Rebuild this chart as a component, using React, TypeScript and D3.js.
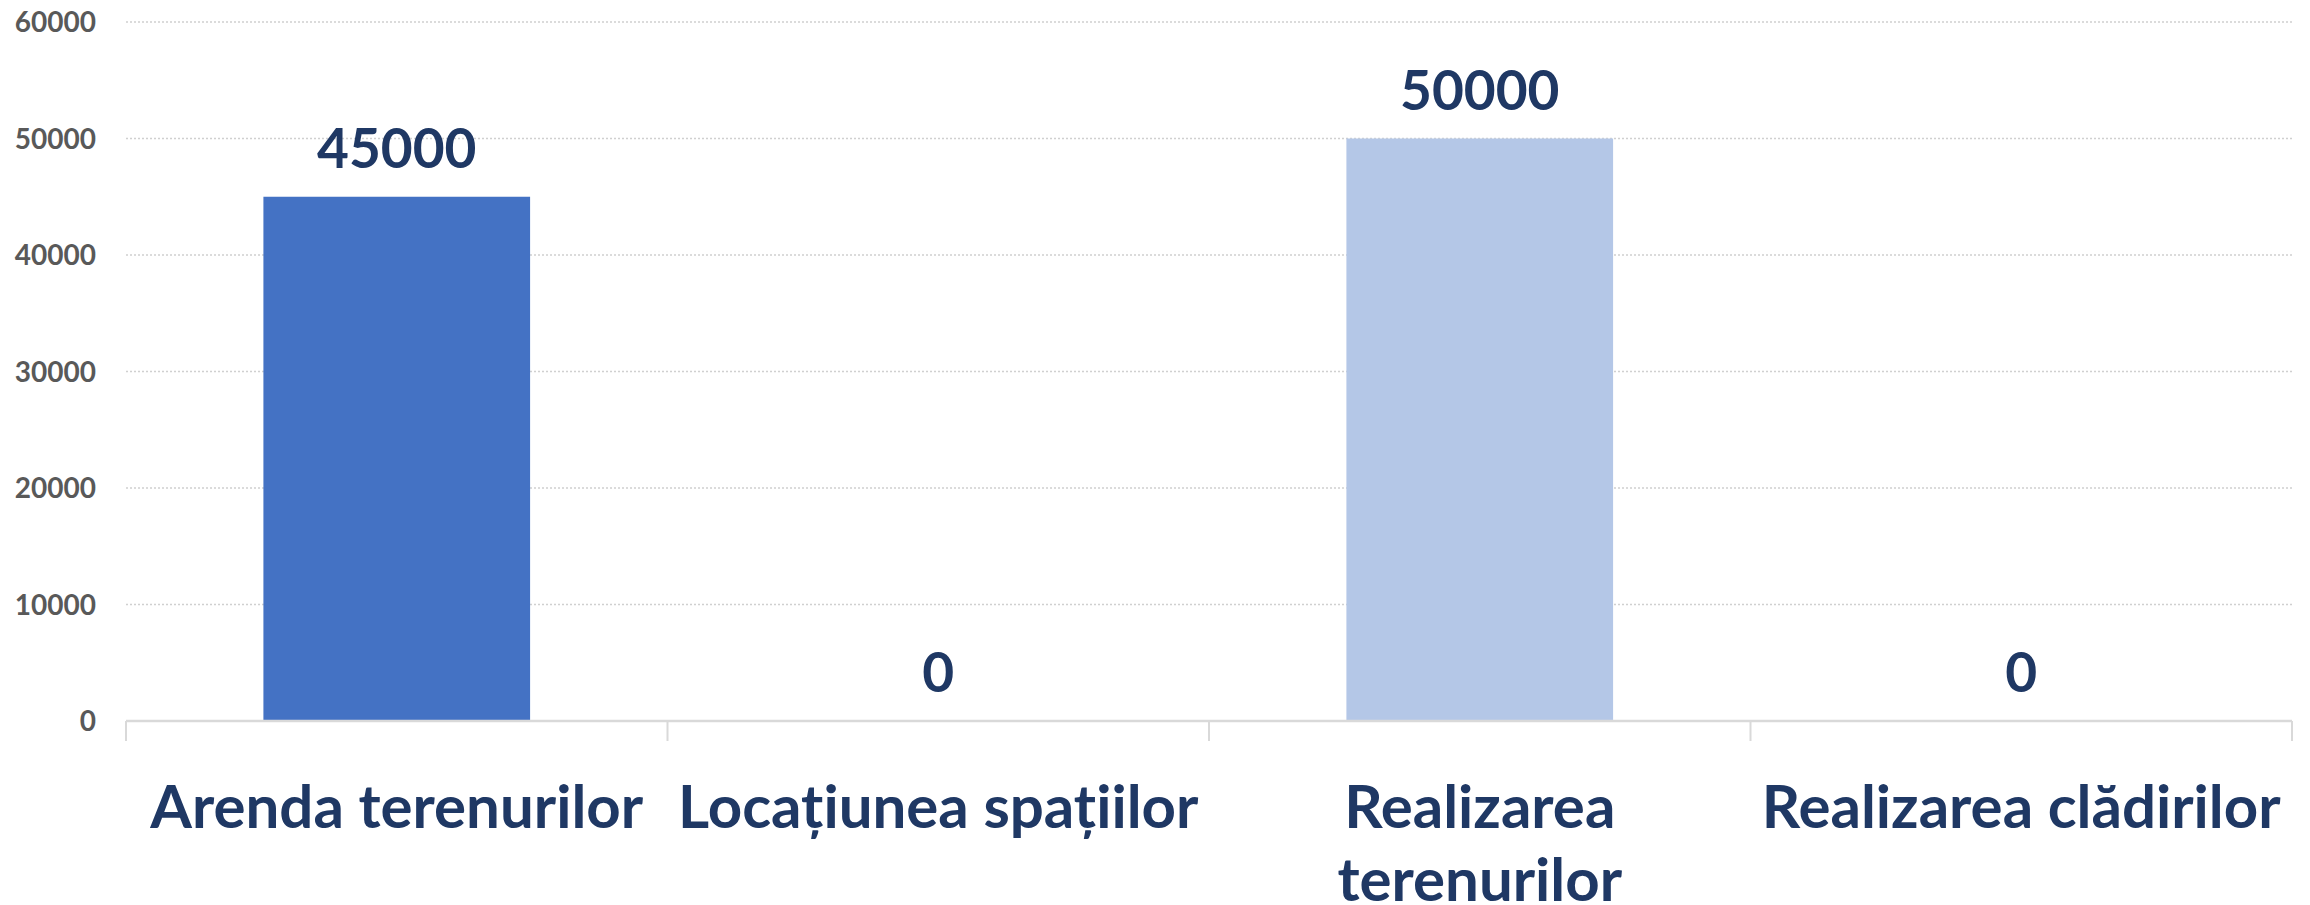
import React, { useEffect, useRef } from "react";
import * as d3 from "d3";

const categories = [
  "Arenda terenurilor",
  "Locațiunea spațiilor",
  "Realizarea terenurilor",
  "Realizarea clădirilor",
];
const values = [45000, 0, 50000, 0];
const barColors = ["#4472C4", "#2F5597", "#B4C7E7", "#8FAADC"];
const yTicks = [0, 10000, 20000, 30000, 40000, 50000, 60000];

const W = 2310;
const H = 905;
const FONT = "Lato, 'Open Sans', sans-serif";

export default function App() {
  const ref = useRef<SVGSVGElement>(null);

  useEffect(() => {
    const svg = d3.select(ref.current);
    svg.selectAll("*").remove();

    const x0 = 126;
    const x1 = 2292;
    const yBase = 721;
    const yTop = 22;

    const x = d3.scaleBand<string>().domain(categories).range([x0, x1]).paddingInner(0).paddingOuter(0);
    const y = d3.scaleLinear().domain([0, 60000]).range([yBase, yTop]);

    // gridlines
    svg
      .append("g")
      .selectAll("line")
      .data(yTicks.filter((t) => t > 0))
      .join("line")
      .attr("x1", x0)
      .attr("x2", x1)
      .attr("y1", (d) => y(d))
      .attr("y2", (d) => y(d))
      .attr("stroke", "#D0D0D0")
      .attr("stroke-width", 1.5)
      .attr("stroke-dasharray", "2,2");

    // y tick labels
    svg
      .append("g")
      .selectAll("text")
      .data(yTicks)
      .join("text")
      .attr("x", 96)
      .attr("y", (d) => y(d) + 10)
      .attr("text-anchor", "end")
      .attr("font-family", FONT)
      .attr("font-weight", 700)
      .attr("font-size", 28)
      .attr("fill", "#595959")
      .text((d) => String(d));

    // bars
    const bw = x.bandwidth() * 0.4925;
    svg
      .append("g")
      .selectAll("rect")
      .data(values)
      .join("rect")
      .attr("x", (d, i) => (x(categories[i]) as number) + (x.bandwidth() - bw) / 2)
      .attr("width", bw)
      .attr("y", (d) => y(d))
      .attr("height", (d) => yBase - y(d))
      .attr("fill", (d, i) => barColors[i]);

    // axis line
    svg
      .append("line")
      .attr("x1", x0)
      .attr("x2", x1)
      .attr("y1", yBase)
      .attr("y2", yBase)
      .attr("stroke", "#D9D9D9")
      .attr("stroke-width", 2.5);

    // category boundary ticks
    const bounds = categories.map((c) => x(c) as number).concat([x1]);
    svg
      .append("g")
      .selectAll("line")
      .data(bounds)
      .join("line")
      .attr("x1", (d) => d)
      .attr("x2", (d) => d)
      .attr("y1", yBase)
      .attr("y2", yBase + 20)
      .attr("stroke", "#D9D9D9")
      .attr("stroke-width", 2);

    // value labels
    svg
      .append("g")
      .selectAll("text")
      .data(values)
      .join("text")
      .attr("x", (d, i) => (x(categories[i]) as number) + x.bandwidth() / 2)
      .attr("y", (d) => y(d) - 29)
      .attr("text-anchor", "middle")
      .attr("font-family", FONT)
      .attr("font-weight", 700)
      .attr("font-size", 55)
      .attr("fill", "#1F3864")
      .text((d) => String(d));

    // category labels with wrapping
    const lineH = 73;
    const catG = svg.append("g");
    categories.forEach((cat) => {
      const cx = (x(cat) as number) + x.bandwidth() / 2;
      const t = catG
        .append("text")
        .attr("x", cx)
        .attr("y", 828)
        .attr("text-anchor", "middle")
        .attr("font-family", FONT)
        .attr("font-weight", 700)
        .attr("font-size", 60)
        .attr("fill", "#1F3864");
      const words = cat.split(" ");
      let line: string[] = [];
      let lineNo = 0;
      let tspan = t.append("tspan").attr("x", cx).attr("y", 828);
      words.forEach((w) => {
        line.push(w);
        tspan.text(line.join(" "));
        const node = tspan.node() as SVGTextContentElement;
        if (node.getComputedTextLength() > x.bandwidth() && line.length > 1) {
          line.pop();
          tspan.text(line.join(" "));
          line = [w];
          lineNo += 1;
          tspan = t.append("tspan").attr("x", cx).attr("y", 828 + lineNo * lineH).text(w);
        }
      });
    });
  }, []);

  return (
    <svg
      ref={ref}
      width={W}
      height={H}
      style={{ position: "absolute", left: 0, top: 0, background: "#ffffff" }}
    />
  );
}
